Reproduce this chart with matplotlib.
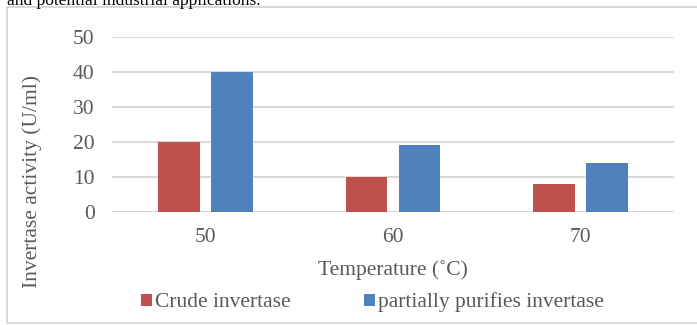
import numpy as np
import matplotlib
matplotlib.use('Agg')
import matplotlib.pyplot as plt
from matplotlib.patches import Rectangle

temps = ['50', '60', '70']
crude = [20, 10, 8]
purified = [40, 19, 14]
series_names = ['Crude invertase', 'partially purifies invertase']
yticks = [0, 10, 20, 30, 40, 50]

plt.rcParams['font.family'] = ['Liberation Serif', 'DejaVu Serif']
txt = '#595959'
grid_c = '#D9D9D9'
red = '#C0504D'
blue = '#4F81BD'
fs = 15.5

W, H = 697, 325
px = lambda x, y: (x/W, (H-y)/H)   # pixel (from top-left) -> figure fraction

fig = plt.figure(figsize=(W/100., H/100.), dpi=100)

# outer frame of the chart area (right edge lies outside the picture)
fig.patches.append(Rectangle(px(6.7, 323), (720-6.7)/W, (323-7.3)/H,
                             transform=fig.transFigure, fill=False,
                             edgecolor=grid_c, linewidth=1.5))
# clipped caption line above the chart
fig.text(*px(7, 5), 'and potential industrial applications.',
         fontsize=12.5, color='black', va='baseline', ha='left')

l, b = px(112, 212)
r, t = px(674, 37)
ax = fig.add_axes([l, b, r-l, t-b])
x = np.arange(len(temps))
bw = 0.224
gap = 0.059
ax.bar(x - (bw+gap)/2, crude, bw, color=red, label=series_names[0], zorder=3)
ax.bar(x + (bw+gap)/2, purified, bw, color=blue, label=series_names[1], zorder=3)

ax.set_xlim(-0.5, len(temps)-0.5)
ax.set_ylim(0, 50)
ax.set_yticks(yticks)
ax.set_xticks(x)
ax.set_xticklabels(temps)
ax.yaxis.grid(True, color=grid_c, linewidth=1.5, zorder=0)
for s in ax.spines.values():
    s.set_visible(False)
ax.tick_params(axis='both', length=0, labelsize=fs, labelcolor=txt)
ax.tick_params(axis='y', pad=12.5)
ax.tick_params(axis='x', pad=11.5)

fig.text(*px(393, 270), 'Temperature (˚C)', fontsize=fs, color=txt,
         ha='center', va='center')
fig.text(*px(32, 181.5), 'Invertase activity (U/ml)', fontsize=fs, color=txt,
         ha='center', va='center', rotation=90)

lg = ax.legend(loc='center left', bbox_to_anchor=px(141, 302.5),
               bbox_transform=fig.transFigure, ncol=2, frameon=False,
               fontsize=fs, handlelength=0.52, handleheight=0.52,
               handletextpad=0.14, columnspacing=3.4, borderaxespad=0,
               borderpad=0)
for tx in lg.get_texts():
    tx.set_color(txt)

plt.savefig('out.png', dpi=100)
